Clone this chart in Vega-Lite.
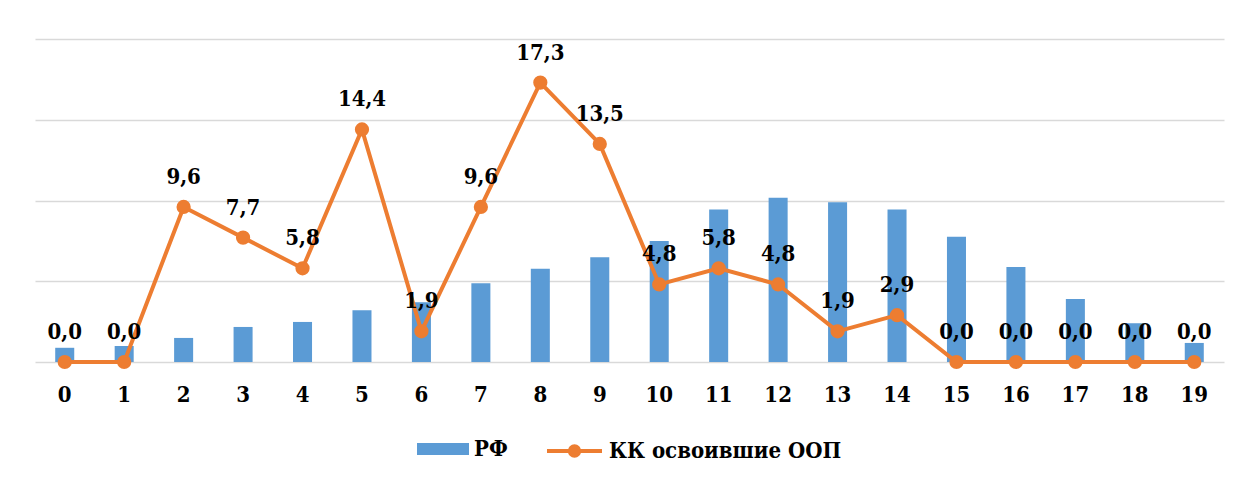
{
  "$schema": "https://vega.github.io/schema/vega-lite/v6.json",
  "autosize": {"type": "none"},
  "padding": {"left": 35, "top": 39, "right": 19, "bottom": 117},
  "width": 1189,
  "height": 323,
  "background": "white",
  "config": {
    "view": {"stroke": null},
    "locale": {"number": {"decimal": ",", "thousands": " ", "grouping": [3], "currency": ["", " ₽"]}}
  },
  "data": {
    "values": [
      {"x": "0", "rf": 0.88, "kk": 0.0},
      {"x": "1", "rf": 0.99, "kk": 0.0},
      {"x": "2", "rf": 1.49, "kk": 9.6},
      {"x": "3", "rf": 2.17, "kk": 7.7},
      {"x": "4", "rf": 2.48, "kk": 5.8},
      {"x": "5", "rf": 3.2, "kk": 14.4},
      {"x": "6", "rf": 3.7, "kk": 1.9},
      {"x": "7", "rf": 4.87, "kk": 9.6},
      {"x": "8", "rf": 5.78, "kk": 17.3},
      {"x": "9", "rf": 6.48, "kk": 13.5},
      {"x": "10", "rf": 7.5, "kk": 4.8},
      {"x": "11", "rf": 9.45, "kk": 5.8},
      {"x": "12", "rf": 10.17, "kk": 4.8},
      {"x": "13", "rf": 9.89, "kk": 1.9},
      {"x": "14", "rf": 9.45, "kk": 2.9},
      {"x": "15", "rf": 7.76, "kk": 0.0},
      {"x": "16", "rf": 5.88, "kk": 0.0},
      {"x": "17", "rf": 3.9, "kk": 0.0},
      {"x": "18", "rf": 2.4, "kk": 0.0},
      {"x": "19", "rf": 1.18, "kk": 0.0}
    ]
  },
  "encoding": {
    "x": {
      "field": "x",
      "type": "ordinal",
      "sort": null,
      "scale": {"paddingInner": 0.68, "paddingOuter": 0.34},
      "axis": {
        "title": null,
        "labelAngle": 0,
        "domain": false,
        "ticks": false,
        "tickSize": 0,
        "labelPadding": 22,
        "labelFont": "DejaVu Serif Condensed",
        "labelFontWeight": "bold",
        "labelFontSize": 22,
        "labelColor": "black",
        "labelBaseline": "top"
      }
    }
  },
  "layer": [
    {
      "mark": {"type": "bar", "color": "#5B9BD5"},
      "encoding": {
        "y": {
          "field": "rf",
          "type": "quantitative",
          "scale": {"domain": [0, 20], "nice": false},
          "axis": {
            "title": null,
            "labels": false,
            "ticks": false,
            "domain": false,
            "values": [0, 5, 10, 15, 20],
            "grid": true,
            "gridColor": "#D9D9D9",
            "gridWidth": 1.5
          }
        },
        "fill": {
          "datum": "РФ",
          "type": "nominal",
          "scale": {"range": ["#5B9BD5"]},
          "legend": {
            "title": null,
            "orient": "none",
            "legendX": 382,
            "legendY": 384,
            "padding": 0,
            "symbolType": "M-1,-0.23H1V0.23H-1Z",
            "symbolSize": 2704,
            "symbolStrokeWidth": 0,
            "labelOffset": 5,
            "labelFont": "DejaVu Serif Condensed",
            "labelFontWeight": "bold",
            "labelFontSize": 22,
            "labelColor": "black",
            "labelLimit": 500
          }
        }
      }
    },
    {
      "mark": {"type": "line", "strokeWidth": 4, "point": {"filled": true, "size": 150, "color": "#ED7D31"}},
      "encoding": {
        "y": {"field": "kk", "type": "quantitative"},
        "stroke": {
          "datum": "КК освоившие ООП",
          "type": "nominal",
          "scale": {"range": ["#ED7D31"]},
          "legend": {
            "title": null,
            "orient": "none",
            "legendX": 510,
            "legendY": 382.5,
            "padding": 0,
            "symbolType": "M-1,0H1M0.17,0A0.17,0.17,0,1,1,-0.17,0A0.17,0.17,0,1,1,0.17,0Z",
            "symbolSize": 3025,
            "symbolStrokeWidth": 4,
            "symbolFillColor": "#ED7D31",
            "labelOffset": 5,
            "labelFont": "DejaVu Serif Condensed",
            "labelFontWeight": "bold",
            "labelFontSize": 22,
            "labelColor": "black",
            "labelLimit": 500
          }
        }
      }
    },
    {
      "mark": {"type": "text", "dy": -23, "baseline": "alphabetic", "font": "DejaVu Serif Condensed", "fontWeight": "bold", "fontSize": 22, "color": "black"},
      "encoding": {
        "y": {"field": "kk", "type": "quantitative"},
        "text": {"field": "kk", "type": "quantitative", "format": ".1f"}
      }
    }
  ],
  "resolve": {"scale": {"y": "shared"}}
}
